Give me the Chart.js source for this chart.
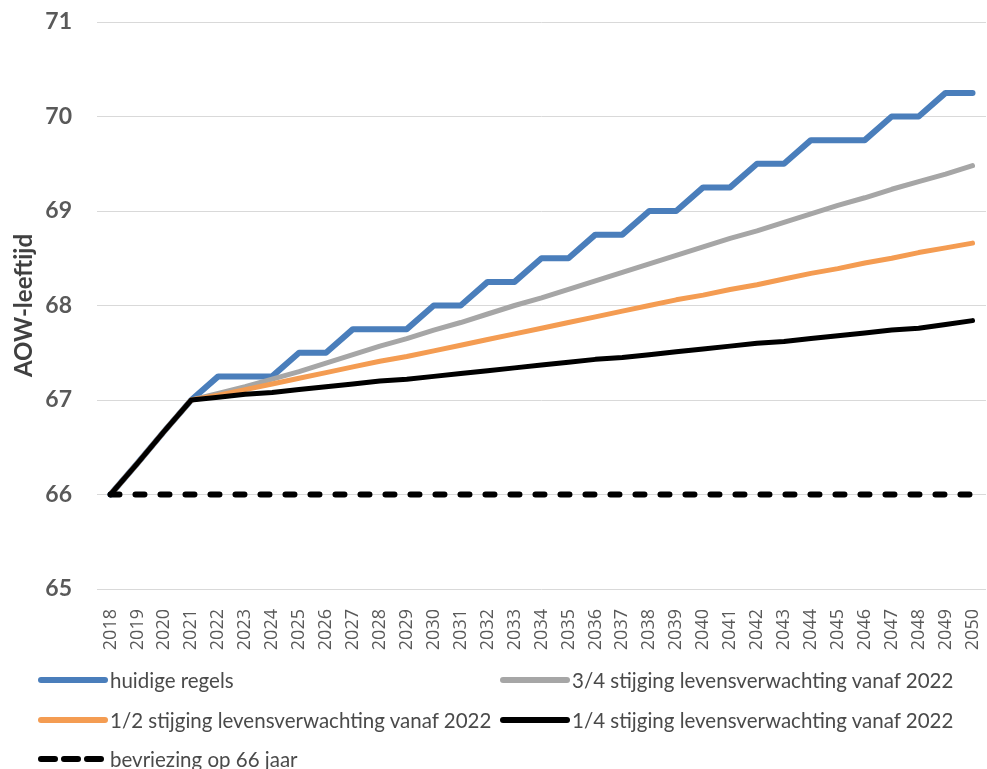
<!DOCTYPE html>
<html>
<head>
<meta charset="utf-8">
<script src="https://cdn.jsdelivr.net/npm/chart.js@4.4.1/dist/chart.umd.min.js"></script>
<style>
  html, body { margin:0; padding:0; background:#fff; }
  body { width:987px; height:769px; overflow:hidden; position:relative; }
  #chart { position:absolute; left:0; top:0; }
  #legend { position:absolute; left:0; top:0; width:987px; height:769px; pointer-events:none; }
  .item { position:absolute; height:30px; display:flex; align-items:center; white-space:nowrap;
          font-family:Lato, "Liberation Sans", sans-serif; font-size:20.5px; color:#4a4a4a; }
  .item svg { flex:none; }
</style>
</head>
<body>
<canvas id="chart" width="987" height="660"></canvas>
<div id="legend"></div>
<script>
// AOW-leeftijd scenario's, waarden
const years = ['2018','2019','2020','2021','2022','2023','2024','2025','2026','2027','2028',
  '2029','2030','2031','2032','2033','2034','2035','2036','2037','2038','2039','2040',
  '2041','2042','2043','2044','2045','2046','2047','2048','2049','2050'];

const huidigeRegels = [66, 66.33, 66.67, 67, 67.25, 67.25, 67.25, 67.5, 67.5, 67.75, 67.75,
  67.75, 68, 68, 68.25, 68.25, 68.5, 68.5, 68.75, 68.75, 69, 69, 69.25,
  69.25, 69.5, 69.5, 69.75, 69.75, 69.75, 70, 70, 70.25, 70.25];

const driekwart = [66, 66.33, 66.67, 67, 67.07, 67.14, 67.22, 67.3, 67.39, 67.48, 67.57,
  67.65, 67.74, 67.82, 67.91, 68.0, 68.08, 68.17, 68.26, 68.35, 68.44, 68.53, 68.62,
  68.71, 68.79, 68.88, 68.97, 69.06, 69.14, 69.23, 69.31, 69.39, 69.48];

const half = [66, 66.33, 66.67, 67, 67.05, 67.11, 67.17, 67.23, 67.29, 67.35, 67.41,
  67.46, 67.52, 67.58, 67.64, 67.7, 67.76, 67.82, 67.88, 67.94, 68.0, 68.06, 68.11,
  68.17, 68.22, 68.28, 68.34, 68.39, 68.45, 68.5, 68.56, 68.61, 68.66];

const kwart = [66, 66.33, 66.67, 67, 67.03, 67.06, 67.08, 67.11, 67.14, 67.17, 67.2,
  67.22, 67.25, 67.28, 67.31, 67.34, 67.37, 67.4, 67.43, 67.45, 67.48, 67.51, 67.54,
  67.57, 67.6, 67.62, 67.65, 67.68, 67.71, 67.74, 67.76, 67.8, 67.84];

const bevriezing = [66, 66, 66, 66, 66, 66, 66, 66, 66, 66, 66,
  66, 66, 66, 66, 66, 66, 66, 66, 66, 66, 66, 66,
  66, 66, 66, 66, 66, 66, 66, 66, 66, 66];

const yTicks = [65, 66, 67, 68, 69, 70, 71];
const yTitle = 'AOW-leeftijd';

const labels = {
  huidig: 'huidige regels',
  driekwart: '3/4 stijging levensverwachting vanaf 2022',
  half: '1/2 stijging levensverwachting vanaf 2022',
  kwart: '1/4 stijging levensverwachting vanaf 2022',
  bevriezing: 'bevriezing op 66 jaar'
};

const line = (label, data, color, width, order, dash) => ({
  label, data, borderColor: color, backgroundColor: color, borderWidth: width,
  borderDash: dash || [], borderCapStyle: 'round', borderJoinStyle: 'round',
  pointRadius: 0, tension: 0, fill: false, order
});

const chart = new Chart(document.getElementById('chart'), {
  type: 'line',
  data: {
    labels: years,
    datasets: [
      line(labels.huidig, huidigeRegels, '#4A7EBB', 6, 4),
      line(labels.driekwart, driekwart, '#A6A6A6', 5, 3),
      line(labels.half, half, '#F49C52', 5, 2),
      line(labels.kwart, kwart, '#000000', 5, 1),
      line(labels.bevriezing, bevriezing, '#000000', 6, 0, [9, 16])
    ]
  },
  options: {
    responsive: false,
    devicePixelRatio: 1,
    animation: false,
    layout: { padding: { top: 22, right: 1, left: 0, bottom: 0 } },
    plugins: { legend: { display: false }, tooltip: { enabled: false } },
    scales: {
      x: {
        offset: true,
        grid: { display: false },
        border: { display: false },
        ticks: {
          minRotation: 90, maxRotation: 90, autoSkip: false, padding: 12,
          color: '#595959', font: { family: '"Open Sans"', size: 18 }
        },
        afterFit: s => { s.height = 71; s.paddingLeft = 0; s.paddingRight = 0; }
      },
      y: {
        min: 65, max: 71,
        afterBuildTicks: s => { s.ticks = yTicks.map(v => ({ value: v })); },
        grid: { color: '#D9D9D9', lineWidth: 1, drawTicks: false },
        border: { display: false },
        ticks: { padding: 25, color: '#595959', font: { family: 'Lato', size: 23, weight: 'bold' } },
        title: {
          display: true, text: yTitle, color: '#404040', padding: { top: 10, bottom: 0 },
          font: { family: 'Lato', size: 24, weight: 'bold' }
        },
        afterFit: s => { s.width = 97; s.paddingTop = 0; s.paddingBottom = 0; }
      }
    }
  }
});

// legend in twee kolommen, zoals in het origineel
const slots = [
  { x: 36, y: 680 }, { x: 498, y: 680 },
  { x: 36, y: 720 }, { x: 498, y: 720 },
  { x: 36, y: 759 }
];
const legend = document.getElementById('legend');
chart.data.datasets.forEach((ds, i) => {
  const s = slots[i];
  const dash = ds.borderDash.length ? 'stroke-dasharray="14 9"' : '';
  const div = document.createElement('div');
  div.className = 'item';
  div.style.left = s.x + 'px';
  div.style.top = (s.y - 15) + 'px';
  div.innerHTML = `<svg width="74" height="12"><line x1="5" y1="6" x2="69" y2="6" stroke="${ds.borderColor}"
    stroke-width="6" stroke-linecap="round" ${dash}/></svg><span>${ds.label}</span>`;
  legend.appendChild(div);
});
</script>
</body>
</html>
